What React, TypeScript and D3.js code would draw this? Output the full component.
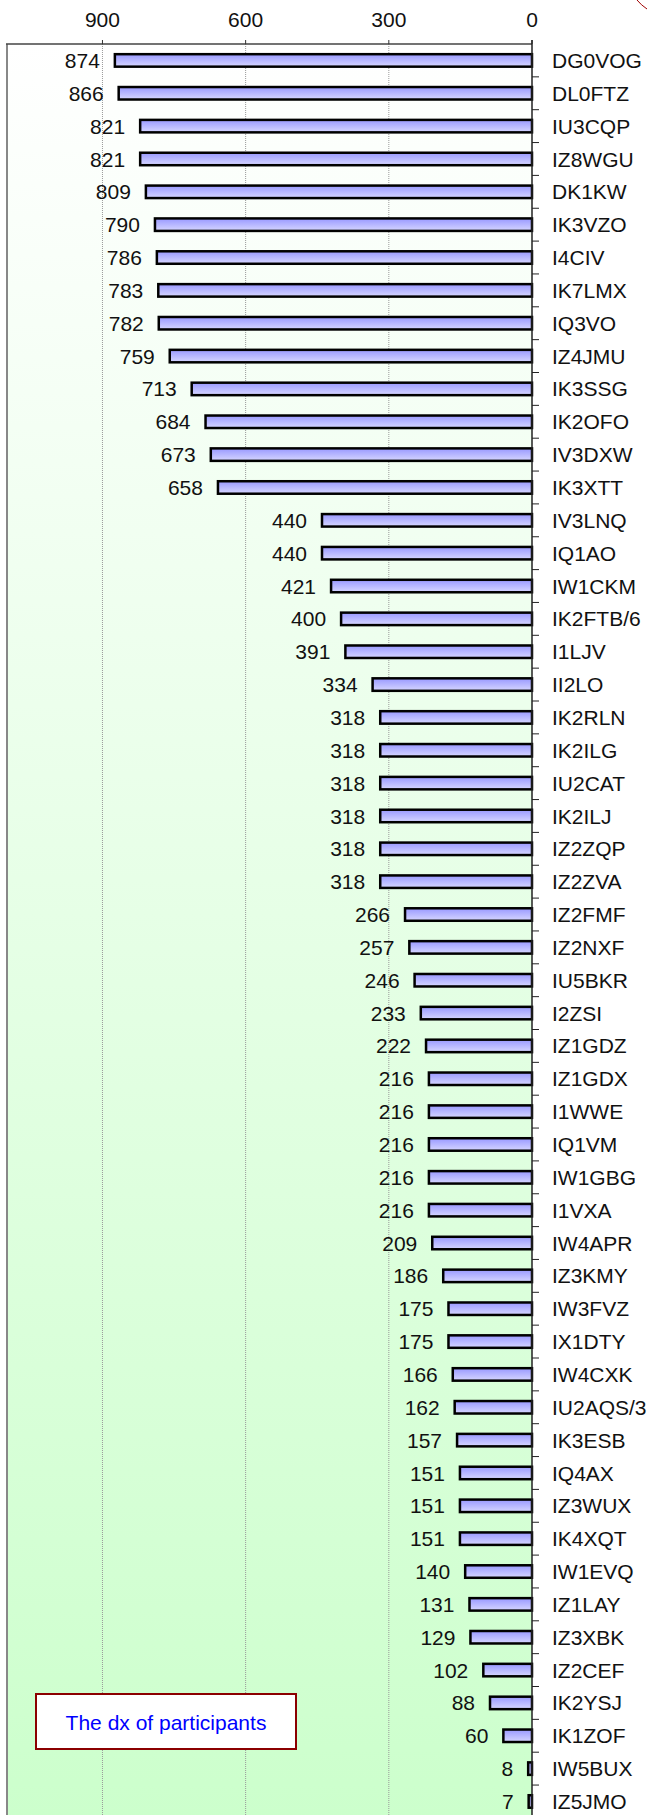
import React from 'react';
import * as d3 from 'd3';

// calls, top to bottom
const stations = [
  'DG0VOG', 'DL0FTZ', 'IU3CQP', 'IZ8WGU', 'DK1KW', 'IK3VZO', 'I4CIV', 'IK7LMX', 'IQ3VO', 'IZ4JMU',
  'IK3SSG', 'IK2OFO', 'IV3DXW', 'IK3XTT', 'IV3LNQ', 'IQ1AO', 'IW1CKM', 'IK2FTB/6', 'I1LJV', 'II2LO',
  'IK2RLN', 'IK2ILG', 'IU2CAT', 'IK2ILJ', 'IZ2ZQP', 'IZ2ZVA', 'IZ2FMF', 'IZ2NXF', 'IU5BKR', 'I2ZSI',
  'IZ1GDZ', 'IZ1GDX', 'I1WWE', 'IQ1VM', 'IW1GBG', 'I1VXA', 'IW4APR', 'IZ3KMY', 'IW3FVZ', 'IX1DTY',
  'IW4CXK', 'IU2AQS/3', 'IK3ESB', 'IQ4AX', 'IZ3WUX', 'IK4XQT', 'IW1EVQ', 'IZ1LAY', 'IZ3XBK', 'IZ2CEF',
  'IK2YSJ', 'IK1ZOF', 'IW5BUX', 'IZ5JMO',
];

const dx = [
  874, 866, 821, 821, 809, 790, 786, 783, 782, 759,
  713, 684, 673, 658, 440, 440, 421, 400, 391, 334,
  318, 318, 318, 318, 318, 318, 266, 257, 246, 233,
  222, 216, 216, 216, 216, 216, 209, 186, 175, 175,
  166, 162, 157, 151, 151, 151, 140, 131, 129, 102,
  88, 60, 8, 7,
];

const ticks = [0, 300, 600, 900];
const legendText = 'The dx of participants';

const W = 647;
const H = 1815;
const plotLeft = 7;
const plotRight = 532;
const plotTop = 44;
const step = 32.85;
const font = '"Liberation Sans", Arial, sans-serif';

export default function App() {
  const x = d3.scaleLinear().domain([0, 1100]).range([plotRight, plotLeft]);
  const y = d3.scaleBand<string>()
    .domain(stations)
    .range([plotTop, plotTop + step * stations.length])
    .paddingInner(0.62)
    .paddingOuter(0.31);
  const plotBottom = plotTop + step * stations.length;
  const boundaries = d3.range(1, stations.length).map(i => plotTop + i * step);

  return (
    <svg width={W} height={H} style={{ position: 'absolute', left: 0, top: 0 }} fontFamily={font}>
      <defs>
        <linearGradient id="bg" x1="0" y1="0" x2="0" y2="1">
          <stop offset="0%" stopColor="#ffffff" />
          <stop offset="100%" stopColor="#ccffcc" />
        </linearGradient>
        <linearGradient id="bar" x1="0" y1="0" x2="0" y2="1">
          <stop offset="0%" stopColor="#9999ff" />
          <stop offset="100%" stopColor="#d6d6ff" />
        </linearGradient>
      </defs>
      <rect width={W} height={H} fill="#fff" />
      <rect x={plotLeft} y={plotTop} width={plotRight - plotLeft} height={plotBottom - plotTop} fill="url(#bg)" />

      {/* grid */}
      {ticks.filter(t => t > 0).map(t => (
        <line key={t} x1={x(t)} x2={x(t)} y1={plotTop} y2={plotBottom}
          stroke="#999" strokeWidth={1} strokeDasharray="1,1" />
      ))}

      {/* frame */}
      <line x1={plotLeft} x2={plotLeft} y1={plotTop} y2={plotBottom} stroke="#888" strokeWidth={2} />
      <line x1={plotLeft - 1} x2={plotRight} y1={plotTop} y2={plotTop} stroke="#444" strokeWidth={1.5} />

      {/* top axis */}
      {ticks.map(t => (
        <g key={t}>
          <line x1={x(t)} x2={x(t)} y1={plotTop - 4} y2={plotTop} stroke="#333" />
          <text x={x(t)} y={27} textAnchor="middle" fontSize={21} fill="#111">{t}</text>
        </g>
      ))}

      {/* bars */}
      {stations.map((s, i) => (
        <g key={s + i}>
          <rect x={x(dx[i])} y={y(s)} width={plotRight - x(dx[i])} height={y.bandwidth()}
            fill="url(#bar)" stroke="#000" strokeWidth={2.5} />
          <text x={x(dx[i]) - 15} y={(y(s) ?? 0) + y.bandwidth() / 2} dy="0.36em"
            textAnchor="end" fontSize={21} fill="#111">{dx[i]}</text>
          <text x={552} y={(y(s) ?? 0) + y.bandwidth() / 2} dy="0.36em"
            fontSize={21} fill="#111">{s}</text>
        </g>
      ))}

      {/* category axis */}
      <line x1={plotRight} x2={plotRight} y1={plotTop - 4} y2={plotBottom} stroke="#222" strokeWidth={1.5} />
      {boundaries.map(b => (
        <line key={b} x1={plotRight} x2={plotRight + 7} y1={b} y2={b} stroke="#222" />
      ))}

      {/* legend */}
      <rect x={36} y={1694} width={260} height={55} fill="#fff" stroke="#8b0000" strokeWidth={2} />
      <text x={166} y={1722} dy="0.36em" textAnchor="middle" fontSize={21} fill="#0000ff">{legendText}</text>

      {/* corner arc */}
      <path d="M637,0 Q641,5 647,9" fill="none" stroke="#a00000" strokeWidth={1} />
    </svg>
  );
}
